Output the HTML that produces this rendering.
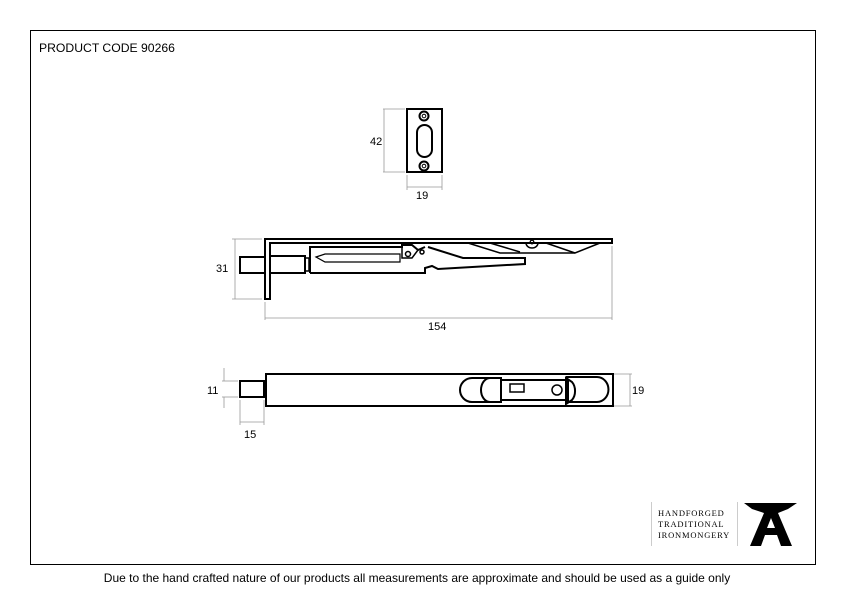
<!DOCTYPE html>
<html><head><style>
body{margin:0;background:#fff;width:842px;height:596px;overflow:hidden}
svg{display:block}
text{font-family:"Liberation Sans",sans-serif;fill:#000}
</style></head><body>
<svg width="842" height="596" viewBox="0 0 842 596">
<rect x="30.5" y="30.5" width="785" height="534" fill="none" stroke="#000" stroke-width="1"/>
<text x="39" y="52" font-size="12.2">PRODUCT CODE 90266</text>
<text x="417" y="582" font-size="12" text-anchor="middle">Due to the hand crafted nature of our products all measurements are approximate and should be used as a guide only</text>

<g fill="none" stroke="#000">
<!-- keeper -->
<rect x="407" y="109" width="35" height="63" stroke-width="2"/>
<rect x="417" y="125" width="15" height="32" rx="7.5" stroke-width="2"/>
<circle cx="424" cy="116" r="4.5" stroke-width="2"/><circle cx="424" cy="116" r="1.8" stroke-width="1"/>
<circle cx="424" cy="166" r="4.5" stroke-width="2"/><circle cx="424" cy="166" r="1.8" stroke-width="1"/>
<g stroke="#999" stroke-width="0.8">
<line x1="383" y1="109" x2="405" y2="109"/><line x1="383" y1="172" x2="405" y2="172"/><line x1="384" y1="109" x2="384" y2="172"/>
<line x1="407" y1="175" x2="407" y2="190"/><line x1="442" y1="175" x2="442" y2="190"/><line x1="407" y1="187" x2="442" y2="187"/>
</g>
<!-- side view -->
<g stroke-width="2">
<path d="M265 299 V239 H612 V243 H270 V299 Z"/>
<rect x="240" y="257" width="25" height="16"/>
<rect x="270" y="256" width="35" height="17"/>
<rect x="305" y="258" width="4" height="13" stroke-width="1.5"/>
<path d="M310 273 V247 H402 V245 H412 L418 250 L425 247"/>
<path d="M310 273 H425 V268 L432 266 L438 269 L525 264 V258 H463 L428 247"/>
<path d="M316 257 L325 254 H400 V262 H325 Z" stroke-width="1.2"/>
<path d="M402 247 V258 H412 L418 250" stroke-width="1.5"/>
<circle cx="408" cy="254" r="2.5" stroke-width="1.5"/>
<circle cx="422" cy="252" r="2" stroke-width="1.5"/>
<path d="M468 243 L500 253 H575 L600 243" stroke-width="1.5"/>
<path d="M490 243 L520 252" stroke-width="1.5"/>
<path d="M546 243 L575 253" stroke-width="1.5"/>
<path d="M526 243 A6 5 0 0 0 538 243" stroke-width="1.5"/>
<circle cx="532" cy="242" r="1.8" stroke-width="1.3"/>
</g>
<g stroke="#999" stroke-width="0.8">
<line x1="232" y1="239" x2="262" y2="239"/><line x1="232" y1="299" x2="262" y2="299"/><line x1="235" y1="239" x2="235" y2="299"/>
<line x1="265" y1="302" x2="265" y2="320"/><line x1="612" y1="246" x2="612" y2="320"/><line x1="265" y1="318" x2="612" y2="318"/>
</g>
<!-- bottom view -->
<g stroke-width="2">
<rect x="266" y="374" width="347" height="32"/>
<rect x="240" y="381" width="24" height="16"/>
<path d="M500 378 H472 A12 12 0 0 0 472 402 H500"/>
<path d="M501 378 H490 A9 12 0 0 0 490 402 H501 Z"/>
<path d="M566 377 H597 A11 12 0 0 1 597 402 H566"/>
<path d="M566 378 L572 382 A9 12 0 0 1 572 400 L566 404 Z"/>
<rect x="501" y="380" width="67" height="20"/>
<rect x="510" y="384" width="14" height="8" stroke-width="1.5"/>
<circle cx="557" cy="390" r="5" stroke-width="1.5"/>
</g>
<g stroke="#999" stroke-width="0.8">
<line x1="222" y1="381" x2="238" y2="381"/><line x1="222" y1="397" x2="238" y2="397"/>
<line x1="224" y1="368" x2="224" y2="381"/><line x1="224" y1="397" x2="224" y2="408"/>
<line x1="240" y1="400" x2="240" y2="425"/><line x1="264" y1="400" x2="264" y2="425"/><line x1="240" y1="422" x2="264" y2="422"/>
<line x1="614" y1="374" x2="632" y2="374"/><line x1="614" y1="406" x2="632" y2="406"/><line x1="630" y1="374" x2="630" y2="406"/>
</g>
</g>
<text x="370" y="145" font-size="11">42</text>
<text x="416" y="199" font-size="11">19</text>
<text x="216" y="272" font-size="11">31</text>
<text x="428" y="330" font-size="11">154</text>
<text x="207" y="394" font-size="11">11</text>
<text x="632" y="394" font-size="11">19</text>
<text x="244" y="438" font-size="11">15</text>
<!-- logo -->
<line x1="651.5" y1="502" x2="651.5" y2="546" stroke="#ccc"/>
<line x1="737.5" y1="502" x2="737.5" y2="546" stroke="#ccc"/>
<g font-size="8.5" letter-spacing="0.8" style="fill:#444">
<text x="658" y="516" style="font-family:'Liberation Serif',serif">HANDFORGED</text>
<text x="658" y="527" style="font-family:'Liberation Serif',serif">TRADITIONAL</text>
<text x="658" y="538" style="font-family:'Liberation Serif',serif">IRONMONGERY</text>
</g>
<path d="M744 503 H797 L788 509 L778 513 L792 546 H781 L777 535 H765 L761 546 H750 L764 513 L752 509 Z M767 528 H775 L771 518 Z" fill="#000"/>
</svg>
</body></html>
